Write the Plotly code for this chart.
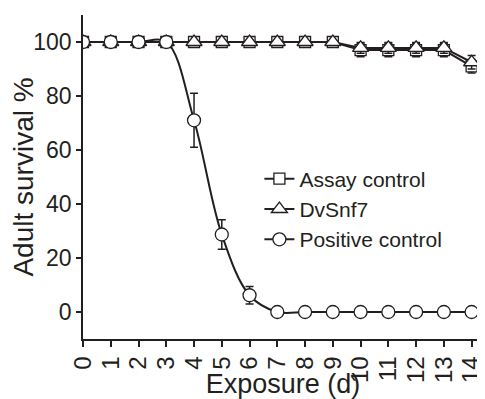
import plotly.graph_objects as go

days = list(range(0, 15))
assay = [100, 100, 100, 100, 100, 100, 100, 100, 100, 100, 97, 97, 97, 97, 91]
assay_err = [0, 0, 0, 0, 0, 0, 0, 0, 0, 0, 2.5, 2.5, 2.5, 2.5, 2.5]
dvsnf7 = [100, 100, 100, 100, 100, 100, 100, 100, 100, 100, 97.8, 97.8, 97.8, 97.8, 92.5]
dvsnf7_err = [0, 0, 0, 0, 0, 0, 0, 0, 0, 0, 2, 2, 2, 2, 2.5]
positive = [100, 100, 100, 100, 71, 28.7, 6.2, 0, 0, 0, 0, 0, 0, 0, 0]
positive_err = [0, 0, 0, 0, 10, 5.5, 3.2, 0, 0, 0, 0, 0, 0, 0, 0]
tick_days = [str(d) for d in days]
y_ticks = [0, 20, 40, 60, 80, 100]

FONT = "Liberation Sans, Arial, sans-serif"
INK = "#231f20"

fig = go.Figure()

def add(name, y, err, symbol, size, shape="linear"):
    fig.add_trace(go.Scatter(
        x=days, y=y, name=name, mode="lines+markers",
        line=dict(color=INK, width=2, shape=shape, smoothing=1.0),
        marker=dict(symbol=symbol, size=size, color="white",
                    line=dict(color=INK, width=1.3)),
        error_y=dict(type="data", array=err, visible=True, color=INK,
                     thickness=1.5, width=4),
    ))

add("Assay control", assay, assay_err, "square", 11)
add("DvSnf7", dvsnf7, dvsnf7_err, "triangle-up", 14)
add("Positive control", positive, positive_err, "circle", 13, shape="spline")

# page body has an 8px default margin; size the figure so it fits the 485x399 window
fig.update_layout(
    width=477, height=391,
    margin=dict(l=75, r=2, t=7, b=60),
    paper_bgcolor="white", plot_bgcolor="white",
    font=dict(family=FONT, color=INK, size=22),
    showlegend=True,
    legend=dict(x=0.441, y=0.557, xanchor="left", yanchor="top",
                font=dict(size=21, family=FONT, color=INK),
                bgcolor="rgba(0,0,0,0)", tracegroupgap=0),
    xaxis=dict(
        range=[0, 14.41], tickmode="array", tickvals=days, ticktext=tick_days,
        tickangle=-90, ticks="outside", ticklen=6, tickwidth=1.5, tickcolor=INK,
        showline=True, linecolor=INK, linewidth=1.5, showgrid=False, zeroline=False,
        automargin=False,
        tickfont=dict(size=24, family=FONT, color=INK),
        title=dict(text="Exposure (d)", font=dict(size=27, family=FONT, color=INK), standoff=12),
    ),
    yaxis=dict(
        range=[-10, 110], tickmode="array", tickvals=y_ticks,
        ticks="outside", ticklen=5, tickwidth=1.5, tickcolor=INK,
        showline=True, linecolor=INK, linewidth=1.5, showgrid=False, zeroline=False,
        automargin=False,
        tickfont=dict(size=23, family=FONT, color=INK),
        title=dict(text="Adult survival %", font=dict(size=28, family=FONT, color=INK), standoff=0),
    ),
)

fig.write_html("out.html")
